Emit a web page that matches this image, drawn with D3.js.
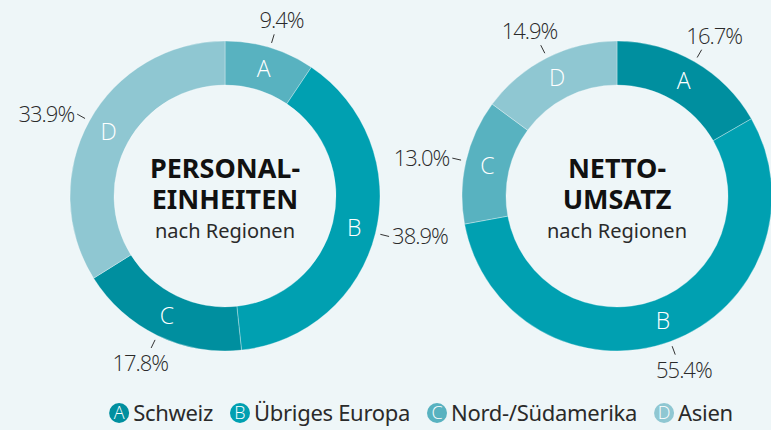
<!DOCTYPE html>
<html lang="de">
<head>
<meta charset="UTF-8">
<title>Personaleinheiten und Nettoumsatz nach Regionen</title>
<style>
  body { margin: 0; background: #eef6f8; }
  svg { display: block; font-family: "Noto Sans", "Open Sans", sans-serif; }
</style>
</head>
<body>
<div id="chart"></div>
<script src="https://d3js.org/d3.v7.min.js"></script>
<script>
// data
const regions = ["A", "B", "C", "D"];
const regionNames = ["Schweiz", "Übriges Europa", "Nord-/Südamerika", "Asien"];
const personalShares = [9.4, 38.9, 17.8, 33.9];
const umsatzShares = [16.7, 55.4, 13.0, 14.9];
const personalTitle = ["PERSONAL-", "EINHEITEN"];
const umsatzTitle = ["NETTO-", "UMSATZ"];
const subTitle = "nach Regionen";

// styles
const dark = "#008f9f", mid = "#00a0b1", light = "#58b2c0", lightest = "#8fc7d2";
const legendColors = [dark, mid, light, lightest];
const personalColors = [light, mid, dark, lightest];
const umsatzColors = [dark, mid, light, lightest];

const width = 771, height = 430;
const outerR = 155, innerR = 111;

const svg = d3.select("#chart")
    .append("svg")
    .attr("width", width)
    .attr("height", height);

const pie = d3.pie().sort(null).value(d => d);
const arc = d3.arc().innerRadius(innerR).outerRadius(outerR);
const fmt = d => d3.format(".1f")(d) + "%";

function drawDonut(cx, cy, shares, colors, title) {
    const g = svg.append("g").attr("transform", `translate(${cx},${cy})`);
    const arcs = pie(shares);

    g.selectAll("path")
        .data(arcs)
        .enter()
        .append("path")
        .attr("d", arc)
        .attr("fill", (d, i) => colors[i])
        .attr("stroke", "rgba(255,255,255,0.45)")
        .attr("stroke-width", 0.7);

    // letters inside the ring
    g.selectAll(".letter")
        .data(arcs)
        .enter()
        .append("text")
        .attr("class", "letter")
        .attr("x", d => arc.centroid(d)[0])
        .attr("y", d => arc.centroid(d)[1])
        .attr("dy", "0.36em")
        .attr("text-anchor", "middle")
        .attr("fill", "#fff")
        .style("font-family", "'Open Sans', 'Noto Sans', sans-serif")
        .style("font-weight", 300)
        .style("font-size", "23px")
        .text((d, i) => regions[i]);

    // ticks and percentage labels
    arcs.forEach((d, i) => {
        const a = (d.startAngle + d.endAngle) / 2;
        const s = Math.sin(a), c = Math.cos(a);
        const r1 = outerR + 5, r2 = outerR + 14;
        const x2 = s * r2, y2 = -c * r2;
        g.append("line")
            .attr("x1", s * r1).attr("y1", -c * r1)
            .attr("x2", x2).attr("y2", y2)
            .attr("stroke", "#333")
            .attr("stroke-width", 1);

        const t = g.append("text")
            .attr("fill", "#2a2a2a")
            .style("font-family", "'Open Sans', 'Noto Sans', sans-serif")
            .style("font-weight", 300)
            .style("font-size", "22px")
            .style("letter-spacing", "-1px")
            .text(fmt(shares[i]));
        if (Math.abs(s) >= 0.7) {
            t.attr("text-anchor", s > 0 ? "start" : "end")
                .attr("x", x2 + (s > 0 ? 3 : -3))
                .attr("y", y2 + 8);
        } else {
            t.attr("text-anchor", "middle")
                .attr("x", x2 + s * 25)
                .attr("y", c > 0 ? y2 - 6 : y2 + 23);
        }
    });

    // centre title
    g.selectAll(".title")
        .data(title)
        .enter()
        .append("text")
        .attr("class", "title")
        .attr("text-anchor", "middle")
        .attr("y", (d, i) => -18 + i * 31)
        .attr("fill", "#111")
        .style("font-weight", 700)
        .style("font-size", "27px")
        .text(d => d);

    g.append("text")
        .attr("text-anchor", "middle")
        .attr("y", 42)
        .attr("fill", "#2a2a2a")
        .style("font-size", "20px")
        .text(subTitle);
}

drawDonut(225, 196, personalShares, personalColors, personalTitle);
drawDonut(617, 196, umsatzShares, umsatzColors, umsatzTitle);

// legend
const legend = svg.append("g");
let lx = 0;
regions.forEach((k, i) => {
    const item = legend.append("g").attr("transform", `translate(${lx},0)`);
    item.append("circle")
        .attr("cx", 10)
        .attr("cy", 0)
        .attr("r", 10)
        .attr("fill", legendColors[i]);
    item.append("text")
        .attr("x", 10)
        .attr("y", 0)
        .attr("dy", "0.36em")
        .attr("text-anchor", "middle")
        .attr("fill", "#fff")
        .style("font-family", "'Open Sans', 'Noto Sans', sans-serif")
        .style("font-weight", 300)
        .style("font-size", "18px")
        .text(k);
    const label = item.append("text")
        .attr("x", 24)
        .attr("y", 0)
        .attr("dy", "0.36em")
        .attr("fill", "#2a2a2a")
        .style("font-size", "22px")
        .style("letter-spacing", "-0.3px")
        .text(regionNames[i]);
    lx += 24 + label.node().getComputedTextLength() + 17;
});
const legendW = lx - 17;
legend.attr("transform", `translate(${421 - legendW / 2},413)`);
</script>
</body>
</html>
